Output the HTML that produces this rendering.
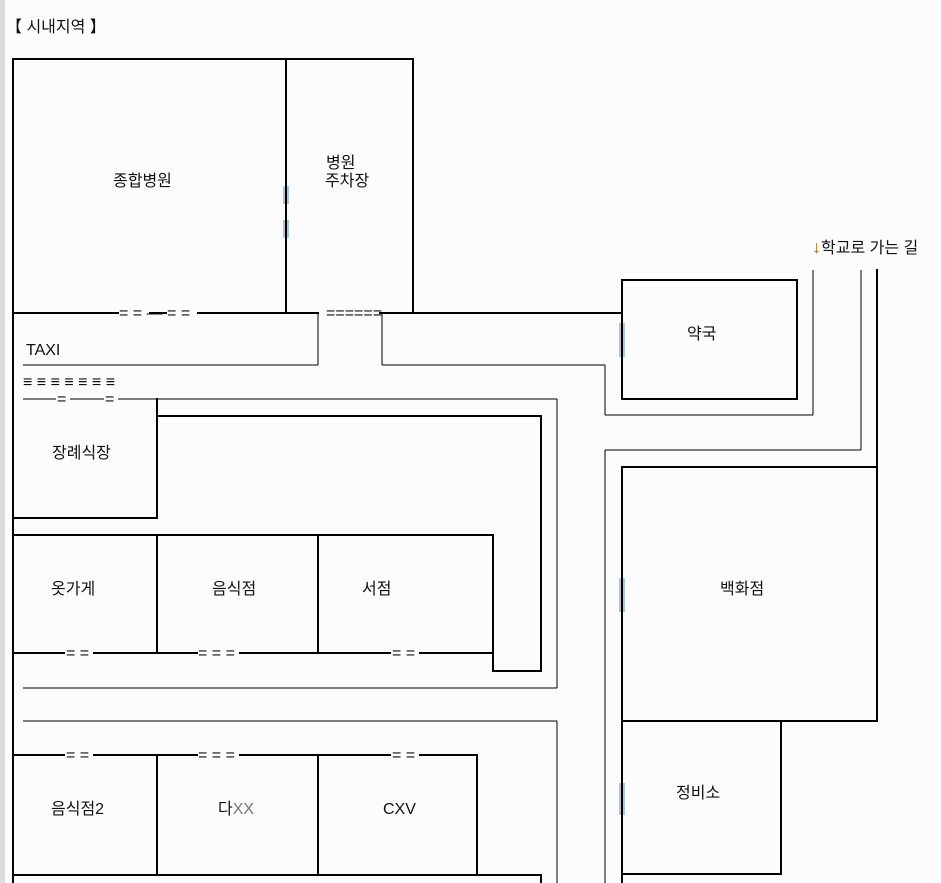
<!DOCTYPE html>
<html><head><meta charset="utf-8"><style>
html,body{margin:0;padding:0;background:#fcfcfc;}
body{width:941px;height:883px;overflow:hidden;position:relative;}
svg{position:absolute;left:0;top:0;}
text{font-family:"Liberation Sans","Noto Sans CJK KR","NanumGothic",sans-serif;font-size:16px;fill:#111;}
</style></head><body>
<svg width="941" height="883" viewBox="0 0 941 883">
<rect x="0" y="0" width="5" height="883" fill="#dcdcdc"/>
<g stroke="#000" stroke-width="2" fill="none" stroke-linecap="square">
<line x1="13" y1="59" x2="413" y2="59"/>
<line x1="13" y1="59" x2="13" y2="883"/>
<line x1="286" y1="59" x2="286" y2="313"/>
<line x1="413" y1="59" x2="413" y2="313"/>
<line x1="13" y1="313" x2="118" y2="313"/>
<line x1="150" y1="313" x2="166" y2="313"/>
<line x1="198" y1="313" x2="318" y2="313"/>
<line x1="380" y1="313" x2="622" y2="313"/>
<rect x="622" y="280" width="175" height="119"/>
<line x1="157" y1="399" x2="157" y2="518"/>
<line x1="13" y1="518" x2="157" y2="518"/>
<line x1="157" y1="416" x2="541" y2="416"/>
<line x1="541" y1="416" x2="541" y2="671"/>
<line x1="493" y1="671" x2="541" y2="671"/>
<line x1="13" y1="535" x2="493" y2="535"/>
<line x1="493" y1="535" x2="493" y2="671"/>
<line x1="157" y1="535" x2="157" y2="653"/>
<line x1="318" y1="535" x2="318" y2="653"/>
<line x1="13" y1="653" x2="64" y2="653"/>
<line x1="94" y1="653" x2="197" y2="653"/>
<line x1="240" y1="653" x2="390" y2="653"/>
<line x1="420" y1="653" x2="493" y2="653"/>
<line x1="13" y1="755" x2="64" y2="755"/>
<line x1="94" y1="755" x2="197" y2="755"/>
<line x1="240" y1="755" x2="390" y2="755"/>
<line x1="420" y1="755" x2="477" y2="755"/>
<line x1="157" y1="755" x2="157" y2="875"/>
<line x1="318" y1="755" x2="318" y2="875"/>
<line x1="477" y1="755" x2="477" y2="875"/>
<line x1="13" y1="875" x2="541" y2="875"/>
<line x1="541" y1="875" x2="541" y2="883"/>
<line x1="622" y1="467" x2="877" y2="467"/>
<line x1="877" y1="270" x2="877" y2="721"/>
<line x1="622" y1="467" x2="622" y2="883"/>
<line x1="622" y1="721" x2="877" y2="721"/>
<line x1="781" y1="721" x2="781" y2="874"/>
<line x1="622" y1="874" x2="781" y2="874"/>
</g>
<g stroke="#000" stroke-width="1" fill="none">
<line x1="318" y1="313" x2="318" y2="365"/>
<line x1="23" y1="365" x2="318" y2="365"/>
<line x1="382" y1="313" x2="382" y2="365"/>
<line x1="382" y1="365" x2="605" y2="365"/>
<line x1="605" y1="365" x2="605" y2="415"/>
<line x1="605" y1="415" x2="813" y2="415"/>
<line x1="813" y1="270" x2="813" y2="415"/>
<line x1="861" y1="270" x2="861" y2="450"/>
<line x1="605" y1="450" x2="861" y2="450"/>
<line x1="605" y1="450" x2="605" y2="883"/>
<line x1="23" y1="399" x2="56" y2="399"/>
<line x1="70" y1="399" x2="104" y2="399"/>
<line x1="118" y1="399" x2="557" y2="399"/>
<line x1="557" y1="399" x2="557" y2="688"/>
<line x1="23" y1="688" x2="557" y2="688"/>
<line x1="23" y1="721" x2="557" y2="721"/>
<line x1="557" y1="721" x2="557" y2="883"/>
</g>
<g stroke="#6a8fb0" stroke-width="1" fill="none">
<line x1="284" y1="186" x2="284" y2="204"/><line x1="288" y1="186" x2="288" y2="204"/>
<line x1="284" y1="220" x2="284" y2="238"/><line x1="288" y1="220" x2="288" y2="238"/>
<line x1="620" y1="323" x2="620" y2="357"/><line x1="624" y1="323" x2="624" y2="357"/>
<line x1="620" y1="578" x2="620" y2="612"/><line x1="624" y1="578" x2="624" y2="612"/>
<line x1="620" y1="783" x2="620" y2="815"/><line x1="624" y1="783" x2="624" y2="815"/>
</g>
<g>
<text x="119" y="318" font-size="14">= = — = =</text>
<text x="326" y="318" font-size="11">======</text>
<text x="23" y="387" font-size="14">≡ ≡ ≡ ≡ ≡ ≡ ≡</text>
<text x="57" y="404" font-size="13">=</text>
<text x="105" y="404" font-size="13">=</text>
<text x="66" y="658" font-size="14">= =</text>
<text x="198" y="658" font-size="14">= = =</text>
<text x="392" y="658" font-size="14">= =</text>
<text x="66" y="760" font-size="14">= =</text>
<text x="198" y="760" font-size="14">= = =</text>
<text x="392" y="760" font-size="14">= =</text>
</g>
<text x="6" y="32">【 시내지역 】</text>
<text x="113" y="186">종합병원</text>
<text x="326" y="168">병원</text>
<text x="325" y="186">주차장</text>
<text x="26" y="355" fill="#3a6fa0" font-size="15">TAXI</text>
<text x="687" y="339">약국</text>
<text x="52" y="458">장례식장</text>
<text x="51" y="594">옷가게</text>
<text x="212" y="594">음식점</text>
<text x="362" y="594">서점</text>
<text x="720" y="594">백화점</text>
<text x="676" y="798">정비소</text>
<text x="51" y="814">음식점2</text>
<text x="218" y="814">다<tspan fill="#777">XX</tspan></text>
<text x="383" y="814" fill="#4a7faa">CXV</text>
<text x="812" y="253"><tspan fill="#b06a00" font-size="18">↓</tspan>학교로 가는 길</text>
</svg>
</body></html>
